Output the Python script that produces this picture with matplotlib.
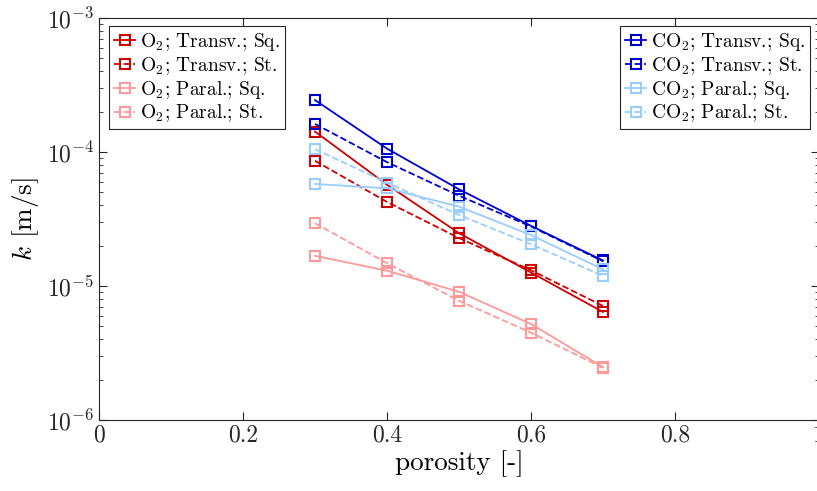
import numpy as np
import matplotlib
matplotlib.use("Agg")
import matplotlib.pyplot as plt

# ==== data ====
porosity = [0.3, 0.4, 0.5, 0.6, 0.7]

o2_transv_sq = [1.42e-4, 5.7e-5, 2.48e-5, 1.26e-5, 6.4e-6]
o2_transv_st = [8.6e-5, 4.24e-5, 2.28e-5, 1.31e-5, 7.1e-6]
o2_paral_sq = [1.68e-5, 1.30e-5, 9.06e-6, 5.2e-6, 2.48e-6]
o2_paral_st = [2.94e-5, 1.48e-5, 7.76e-6, 4.49e-6, 2.45e-6]

co2_transv_sq = [2.44e-4, 1.06e-4, 5.27e-5, 2.81e-5, 1.55e-5]
co2_transv_st = [1.62e-4, 8.4e-5, 4.72e-5, 2.78e-5, 1.53e-5]
co2_paral_sq = [5.77e-5, 5.36e-5, 3.91e-5, 2.40e-5, 1.33e-5]
co2_paral_st = [1.05e-4, 5.9e-5, 3.39e-5, 2.05e-5, 1.19e-5]

# ==== style ====
plt.rcParams["font.family"] = "serif"
plt.rcParams["font.serif"] = ["cmr10", "DejaVu Serif"]
plt.rcParams["mathtext.fontset"] = "cm"
plt.rcParams["axes.formatter.use_mathtext"] = True

RED = "#cc0000"
LRED = "#ff9999"
BLUE = "#0000cc"
LBLUE = "#99ccff"

fig = plt.figure(figsize=(8.17, 4.91), dpi=100)
ax = fig.add_axes([99 / 817, 1 - 420 / 491, 720 / 817, 402 / 491])

series = [
    (o2_transv_sq, RED, "-", r"O$_2$; Transv.; Sq."),
    (o2_transv_st, RED, "--", r"O$_2$; Transv.; St."),
    (o2_paral_sq, LRED, "-", r"O$_2$; Paral.; Sq."),
    (o2_paral_st, LRED, "--", r"O$_2$; Paral.; St."),
    (co2_transv_sq, BLUE, "-", r"CO$_2$; Transv.; Sq."),
    (co2_transv_st, BLUE, "--", r"CO$_2$; Transv.; St."),
    (co2_paral_sq, LBLUE, "-", r"CO$_2$; Paral.; Sq."),
    (co2_paral_st, LBLUE, "--", r"CO$_2$; Paral.; St."),
]

lines = []
for vals, col, ls, lab in series:
    (ln,) = ax.plot(porosity, vals, color=col, ls=ls, lw=1.3, marker="s",
                    markersize=6.5, markerfacecolor="none", markeredgewidth=1.5,
                    label=lab)
    lines.append(ln)

ax.set_yscale("log")
ax.set_xlim(0, 1)
ax.set_ylim(1e-6, 1e-3)
ax.set_xticks([0, 0.2, 0.4, 0.6, 0.8, 1])
ax.set_xticklabels(["0", "0.2", "0.4", "0.6", "0.8", "1"])
ax.tick_params(which="both", direction="in", top=True, right=True,
               labelsize=17, colors="0.15")
ax.tick_params(which="major", length=6)
ax.tick_params(which="minor", length=3)
for s in ax.spines.values():
    s.set_color("0.15")
    s.set_linewidth(0.8)

ax.set_xlabel("porosity [-]", fontsize=19.5, labelpad=2)
ax.set_ylabel(r"$k$ [m/s]", fontsize=19.5)

leg_kw = dict(fontsize=14, fancybox=False, edgecolor="0.15", framealpha=1,
              borderaxespad=0, handlelength=1.1, handletextpad=0.25,
              labelspacing=0.1, borderpad=0.25)
leg1 = ax.legend(handles=lines[:4], loc="upper left",
                 bbox_to_anchor=(109 / 817, 1 - 26 / 491),
                 bbox_transform=fig.transFigure, **leg_kw)
leg1.get_frame().set_linewidth(0.8)
ax.add_artist(leg1)
leg2 = ax.legend(handles=lines[4:], loc="upper right",
                 bbox_to_anchor=(810 / 817, 1 - 26 / 491),
                 bbox_transform=fig.transFigure, **leg_kw)
leg2.get_frame().set_linewidth(0.8)

fig.savefig("out.png", dpi=100)
